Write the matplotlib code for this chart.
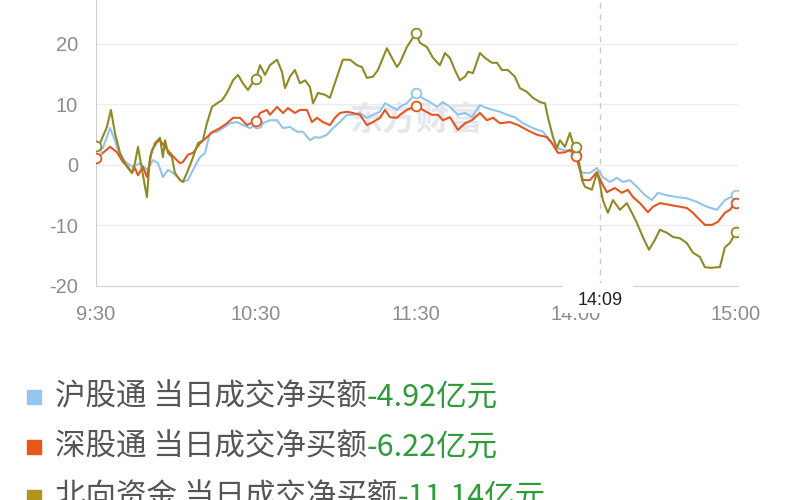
import numpy as np
import matplotlib.pyplot as plt
from matplotlib.patches import Rectangle
from matplotlib.transforms import IdentityTransform

plt.rcParams['font.family'] = ['Noto Sans CJK SC', 'DejaVu Sans']
plt.rcParams['axes.unicode_minus'] = False

# trading minutes since 9:30 (lunch break removed), values in 亿元
hgt_min = [0, 2.6, 5.25, 7.1, 9, 11.6, 13.9, 16.5, 19.1, 21.4, 23.25, 25.1, 27, 28.9, 30.75,
           32.6, 34.5, 36.4, 39, 40.9, 42.75, 45.4, 47.6, 50.25, 52.9, 55.1, 57.75, 60.4, 62.6,
           65.25, 67.9, 70.1, 72.75, 75.4, 77.6, 80.25, 82.1, 84, 86.6, 88.9, 91.5, 94.1, 96.4,
           99, 101.6, 103.9, 106.5, 108.4, 111, 112.9, 114, 116.6, 120, 122.25, 125.25, 127.9,
           130.1, 132.75, 135.75, 138.4, 141, 144, 146.6, 148.9, 151.5, 154.1, 157.1, 160.1,
           163.9, 167.6, 170.25, 172.9, 175.1, 177.75, 180, 181.5, 182.6, 185.25, 187.9, 190.1,
           192.75, 195.4, 197.6, 200.25, 202.9, 205.9, 208.5, 210.75, 214.1, 217.9, 221.6,
           225.4, 229.1, 232.9, 235.9, 240]
hgt_val = [2.1, 2.8, 6.1, 4.1, 1.3, 0.3, -0.3, 0.3, -0.8, 0.8, 0.3, -2.0, -0.8, -1.3, -2.1,
           -2.8, -2.5, -0.8, 1.3, 2.0, 5.3, 5.5, 6.1, 6.9, 7.1, 6.6, 6.1, 6.9, 6.9,
           7.4, 7.4, 6.1, 6.3, 5.5, 5.5, 4.1, 4.6, 4.5, 5.0, 6.1, 7.1, 8.3, 8.3,
           8.6, 7.8, 8.3, 8.8, 10.2, 9.6, 9.1, 9.6, 10.2, 11.9, 11.1, 10.4, 9.6,
           10.4, 9.6, 8.3, 8.6, 7.9, 9.9, 9.4, 9.1, 8.8, 8.3, 7.9, 6.9,
           6.1, 5.5, 4.1, 2.8, 2.5, 2.3, 1.7, -0.8, -1.3, -1.3, -0.5, -2.0,
           -2.8, -2.1, -2.8, -2.5, -3.6, -5.0, -5.8, -4.6, -5.0, -5.3, -5.5,
           -6.1, -6.9, -7.4, -5.8, -4.92]

sgt_min = [0, 2.6, 5.25, 7.9, 10.1, 12, 13.5, 14.6, 15.75, 17.6, 19.1, 21, 22.9, 24, 25.9,
           27.75, 29.6, 31.5, 32.6, 34.5, 36.4, 39, 41.6, 43.9, 46.5, 49.1, 51.4, 54, 56.6,
           60, 61.5, 64.1, 65.25, 67.9, 70.1, 72, 74.6, 76.5, 79.1, 81, 82.9, 85.1, 87.75,
           89.6, 91.5, 94.1, 96.4, 99, 101.6, 103.9, 106.5, 108.4, 110.25, 112.9, 114, 116.6,
           120, 122.6, 126, 128.25, 130.1, 132.75, 135.75, 138.4, 141, 144, 146.6, 148.9,
           151.5, 155.25, 158.25, 161.6, 165.4, 169.1, 171, 173.25, 175.9, 177.75, 180, 181.5,
           182.6, 185.25, 187.9, 189.75, 191.6, 194.6, 197.25, 199.5, 201.4, 204, 207, 208.9,
           211.5, 215.25, 219, 221.6, 223.9, 226.5, 228.4, 231, 233.25, 235.9, 237.75, 240]
sgt_val = [1.1, 2.0, 3.0, 2.1, 0.5, -0.3, -1.3, -0.5, -1.7, -0.3, -2.0, 2.5, 3.8, 4.1, 3.0,
           2.0, 1.1, 0.3, 0.5, 1.7, 2.0, 3.6, 4.6, 5.5, 6.1, 6.9, 7.8, 7.8, 6.6,
           7.3, 8.6, 9.1, 8.3, 9.6, 8.6, 9.4, 8.6, 9.1, 9.1, 7.1, 7.8, 7.1, 6.6,
           7.8, 8.6, 8.8, 8.6, 8.3, 6.6, 7.1, 7.8, 9.1, 7.9, 7.8, 8.3, 9.1,
           9.8, 9.1, 8.3, 8.3, 7.4, 7.9, 5.8, 6.9, 7.4, 8.6, 7.4, 7.8,
           6.9, 7.1, 6.6, 5.8, 5.0, 4.6, 3.6, 2.0, 2.1, 2.5, 1.5, -0.8,
           -2.5, -2.5, -1.2, -3.0, -4.5, -3.8, -4.6, -4.1, -5.3, -6.3, -7.8, -6.9,
           -6.3, -6.6, -6.9, -7.1, -7.9, -9.1, -9.9, -9.9, -9.4, -7.9, -7.4, -6.22]

bx_min = [0, 1.5, 4.1, 5.6, 7.1, 9, 11.6, 13.5, 14.6, 15.75, 17.25, 19.1, 20.25, 22.1, 24,
          25.1, 25.9, 27, 28.5, 29.6, 31.5, 32.6, 34.1, 36, 38.25, 40.1, 41.6, 43.5, 45.4,
          47.25, 49.1, 51.4, 53.25, 55.1, 57, 58.9, 60, 61.5, 63.4, 65.25, 67.9, 69.75, 70.9,
          72.75, 74.6, 76.5, 78.4, 80.25, 81.4, 83.25, 85.9, 87.75, 90.4, 92.6, 95.25, 97.9,
          99.75, 101.6, 103.9, 105.75, 109.1, 111, 112.9, 114, 116.6, 120, 121.5, 124.1, 126.4,
          129, 130.9, 132.75, 134.6, 136.5, 138.4, 139.5, 141.4, 144, 145.9, 148.5, 150.4,
          152.25, 154.5, 157.1, 159, 161.6, 163.9, 166.5, 168.4, 169.5, 171.4, 172.9, 174,
          175.9, 177.75, 178.9, 180, 181.5, 182.25, 183.4, 186, 187.9, 189, 190.1, 192, 193.9,
          196.5, 199.1, 201, 202.9, 205.1, 207.4, 209.6, 211.5, 214.1, 216.4, 219, 221.6,
          223.9, 226.5, 228.4, 231, 232.9, 234, 235.9, 237.75, 238.9, 240]
bx_val = [3.1, 3.6, 6.3, 9.1, 5.3, 2.0, -0.3, -1.3, 0.3, 3.0, -0.8, -5.3, 1.3, 3.6, 4.5,
          1.3, 4.1, 2.0, 1.3, -1.3, -2.5, -2.8, -1.3, 0.8, 3.6, 4.1, 6.9, 9.6, 10.2,
          10.7, 11.9, 14.0, 14.9, 13.5, 12.4, 13.7, 14.2, 16.5, 14.9, 16.5, 17.4, 15.4, 12.7,
          14.6, 15.7, 13.5, 14.0, 12.9, 10.2, 11.9, 11.6, 11.1, 14.6, 17.4, 17.4, 16.5,
          16.2, 14.4, 14.6, 15.7, 19.3, 17.7, 16.2, 16.9, 19.5, 21.8, 20.2, 19.5, 17.7,
          16.5, 18.5, 17.7, 15.7, 14.0, 14.6, 15.4, 15.2, 18.5, 17.7, 16.9, 16.9,
          15.7, 15.7, 14.6, 12.7, 12.1, 11.1, 10.4, 10.2, 7.9, 4.6, 2.8, 4.1,
          3.0, 5.3, 3.6, 3.0, -0.3, -2.5, -3.6, -4.1, -1.2, -3.0, -5.8, -7.9, -5.8,
          -7.4, -6.3, -7.9, -9.6, -11.9, -14.0, -12.4, -10.7, -11.2, -11.9, -12.1, -12.9,
          -14.5, -15.2, -16.9, -17.0, -16.9, -16.9, -13.6, -12.9, -12.0, -11.14]

tick_pos = [0, 60, 120, 180, 240]
tick_lab = ['9:30', '10:30', '11:30', '14:00', '15:00']
cursor_min = 189
cursor_lab = '14:09'

names = ['沪股通', '深股通', '北向资金']
totals = ['-4.92亿元', '-6.22亿元', '-11.14亿元']
line_cols = ['#93c4ea', '#e5561f', '#8f8a24']
key_cols = ['#93c6ee', '#e8571a', '#b0941e']

fig = plt.figure(figsize=(8, 5), dpi=100)
ax = fig.add_axes([96/800, 1-286/500, 642/800, 286/500])

for yv in [20, 10, 0, -10]:
    ax.axhline(yv, color='#ededed', lw=1, zorder=0)

ax.text(120, 7.2, '东方财富', fontsize=24, fontweight='bold', color='#e4e8ee',
        ha='center', va='center', zorder=0.5, fontstyle='italic')

series = [(hgt_min, hgt_val), (sgt_min, sgt_val), (bx_min, bx_val)]
for (xm, yv), c in zip(series, line_cols):
    xm = np.array(xm); yv = np.array(yv)
    idx = [int(np.argmin(np.abs(xm - t))) for t in tick_pos]
    ax.plot(xm, yv, color=c, lw=1.5, zorder=2)
    ax.plot(xm[idx], yv[idx], ls='none', marker='o', ms=7, mfc='white', mec=c, mew=1.3, zorder=3)

ax.axvline(cursor_min, color='#c8c8c8', lw=1, ls=(0, (4, 4)), zorder=1)

ax.set_xlim(0, 240.8)
ax.set_ylim(-20, 165/6.05)
ax.set_xticks(tick_pos)
ax.set_xticklabels(tick_lab)
ax.set_yticks([20, 10, 0, -10, -20])
ax.tick_params(length=0, labelsize=14.5, colors='#8c8c8c')
ax.tick_params(axis='x', pad=14)
ax.tick_params(axis='y', pad=13)
for lab in ax.get_xticklabels() + ax.get_yticklabels():
    lab.set_family(['Liberation Sans', 'DejaVu Sans'])
for s in ['top', 'right']:
    ax.spines[s].set_visible(False)
ax.spines['left'].set_color('#cfcfcf')
ax.spines['bottom'].set_color('#cfcfcf')

# crosshair time tag sitting over the axis line
px, py = ax.transData.transform((cursor_min, -20))
fig.add_artist(Rectangle((px - 37, py - 27), 70, 30, transform=IdentityTransform(),
                         fc='white', ec='none', zorder=5))
fig.add_artist(plt.Text(px, py - 15, cursor_lab, transform=IdentityTransform(), ha='center',
                        va='center', fontsize=13, color='#222222', zorder=6,
                        family=['Liberation Sans', 'DejaVu Sans']))

for i, (n, t) in enumerate(zip(names, totals)):
    yc = 1 - (397 + 50*i)/500
    fig.add_artist(Rectangle((27/800, yc - 7/500), 14/800, 14/500, transform=fig.transFigure,
                             color=key_cols[i]))
    t1 = fig.text(55/800, yc, n + ' 当日成交净买额', fontsize=22, color='#555555', va='center')
    ax.annotate(t, xy=(1, 0), xycoords=t1, ha='left', va='bottom', fontsize=22, color='#2f9b3a',
                annotation_clip=False)

fig.savefig('out.png', dpi=100)
